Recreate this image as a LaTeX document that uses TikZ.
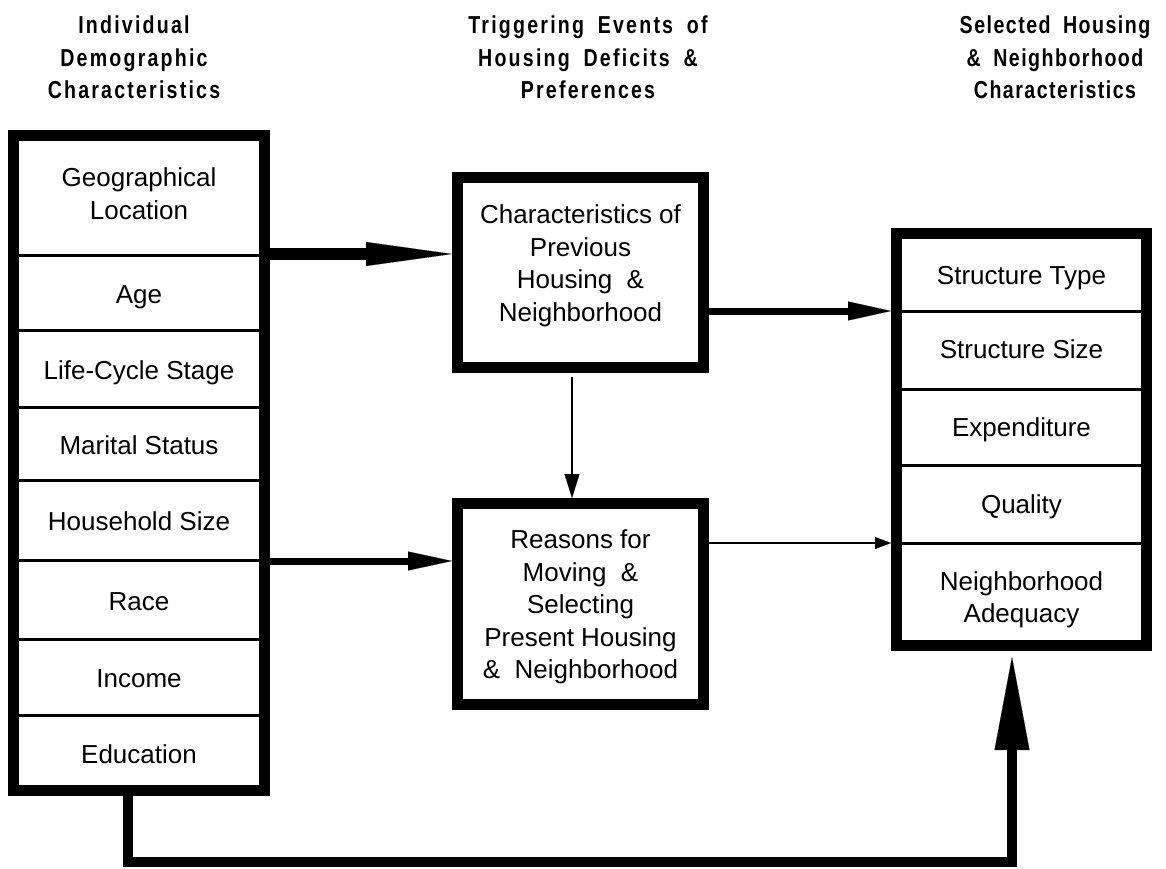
\documentclass[tikz,border=0pt]{standalone}
\usepackage{fontspec}
\setmainfont{Liberation Sans}
\newfontfamily\hdfont[FakeStretch=0.8,LetterSpace=9,WordSpace=1.8]{Liberation Sans}
\newfontfamily\hdfontR[FakeStretch=0.8,LetterSpace=6,WordSpace=1.8]{Liberation Sans}
\usetikzlibrary{arrows.meta}
\begin{document}
\begin{tikzpicture}[x=1pt,y=-1pt,
  box/.style={draw, line width=11pt, inner sep=0pt, outer sep=5.5pt},
  cell/.style={font=\fontsize{26}{32.5}\selectfont, align=center, inner sep=0pt},
  hdr/.style={font=\hdfont\bfseries\fontsize{24.5}{32.5}\selectfont, align=center, inner sep=0pt},
  hdrR/.style={font=\hdfontR\bfseries\fontsize{24.5}{32.5}\selectfont, align=center, inner sep=0pt},
  div/.style={line width=3pt},
  conn/.style={line join=miter},
]
\useasboundingbox (0,0) rectangle (1166,869);

% headers
\node[hdr] (h1) at (134,57.3) {Individual\\Demographic\\Characteristics};
\node[hdr] (h2) at (588,57.3) {Triggering Events of\\Housing Deficits \&\\Preferences};
\node[hdrR] (h3) at (1055,57.3) {Selected Housing\\\& Neighborhood\\Characteristics};

% boxes
\node[box, minimum width=250.5pt, minimum height=654.5pt] (left) at (138.75,462.75) {};
\node[box, minimum width=246pt, minimum height=190pt] (prev) at (580.5,272.5) {};
\node[box, minimum width=246pt, minimum height=201pt] (reas) at (580.5,604) {};
\node[box, minimum width=250pt, minimum height=412pt] (sel) at (1021.5,439.5) {};

% left dividers
\foreach \yy in {255,330,407,480,560,639,715}
  \draw[div] (19,\yy) -- (259,\yy);
% right dividers
\foreach \yy in {311,389,465,543}
  \draw[div] (902,\yy) -- (1141,\yy);

% left cells
\node[cell] (geo) at (139,193.5) {Geographical\\Location};
\node[cell,anchor=base] (age) at (139,303) {Age};
\node[cell,anchor=base] (life) at (139,379) {Life-Cycle Stage};
\node[cell,anchor=base] (mar) at (139,454) {Marital Status};
\node[cell,anchor=base] (hh) at (139,530.5) {Household Size};
\node[cell,anchor=base] (race) at (139,610) {Race};
\node[cell,anchor=base] (inc) at (139,687) {Income};
\node[cell,anchor=base] (edu) at (139,763) {Education};

% middle texts
\node[cell] (prevt) at (580.5,266) {Characteristics of\\Previous\\Housing\ \ \&\\Neighborhood};
\node[cell] (reast) at (580.5,607) {Reasons for\\Moving\ \ \&\\Selecting\\Present Housing\\\&\ \ Neighborhood};

% right cells
\node[cell,anchor=base] (st) at (1021.5,284) {Structure Type};
\node[cell,anchor=base] (ss) at (1021.5,358) {Structure Size};
\node[cell,anchor=base] (ex) at (1021.5,436) {Expenditure};
\node[cell,anchor=base] (qu) at (1021.5,513) {Quality};
\node[cell] (na) at (1021.5,600) {Neighborhood\\Adequacy};

% helper coordinates
\coordinate (y1) at (0,254);
\coordinate (y2) at (0,561);
\coordinate (y3) at (0,311);
\coordinate (y4) at (0,543);
\coordinate (x5) at (572,0);
\coordinate (c1) at (128,862);
\coordinate (c2) at (1012,862);

% connectors
\draw[conn, line width=12pt, -{Triangle[length=86pt,width=24pt,line width=0.1pt]}] (left.east |- y1) -- (prev.west |- y1);
\draw[conn, line width=7pt, -{Triangle[length=44pt,width=19pt,line width=0.1pt]}] (left.east |- y2) -- (reas.west |- y2);
\draw[conn, line width=7pt, -{Triangle[length=43pt,width=19pt,line width=0.1pt]}] (prev.east |- y3) -- (sel.west |- y3);
\draw[conn, line width=2.5pt, -{Triangle[length=16pt,width=12pt,line width=0.1pt]}] (reas.east |- y4) -- (sel.west |- y4);
\draw[conn, line width=2.5pt, shorten <=4pt, -{Triangle[length=24pt,width=15pt,line width=0.1pt]}] (prev.south -| x5) -- (reas.north -| x5);
\draw[conn, line width=10pt, shorten >=6pt, -{Triangle[length=93pt,width=35pt,line width=0.1pt]}] (left.south -| c1) -- (c1) -- (c2) -- (sel.south -| c2);
\end{tikzpicture}
\end{document}
